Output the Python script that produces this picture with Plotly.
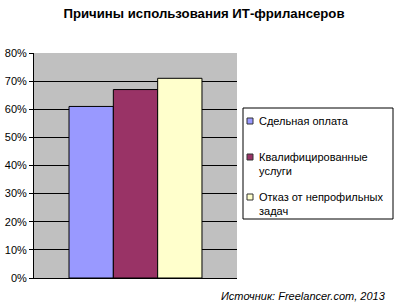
import plotly.graph_objects as go

title = "Причины использования ИТ-фрилансеров"
source = "Источник: Freelancer.com, 2013"
series_names = ["Сдельная оплата", "Квалифицированные<br>услуги", "Отказ от непрофильных<br>задач"]
series_values = [61, 67, 71]
series_colors = ["#9999FF", "#993366", "#FFFFCC"]
tick_vals = [0, 10, 20, 30, 40, 50, 60, 70, 80]
tick_text = [f"{v}%" for v in tick_vals]
category = [""]

# plot-area geometry (pixels)
L, R, T, B = 34, 237, 53, 278
W, H = R - L, B - T


def px(xp):
    return (xp - L) / W


def py(yp):
    return (B - yp) / H


fig = go.Figure()
for i, (name, val, col) in enumerate(zip(series_names, series_values, series_colors)):
    fig.add_trace(go.Bar(
        x=category, y=[val], name=name.replace("<br>", " "),
        marker=dict(color=col, line=dict(color="black", width=1)),
        showlegend=False,
    ))

shapes = [dict(type="rect", xref="paper", yref="paper", x0=px(243), x1=px(393),
               y0=py(108), y1=py(219), line=dict(color="black", width=1),
               fillcolor="white", layer="above")]
annotations = []
legend_rows = [121, 157, 197]
for name, col, ry in zip(series_names, series_colors, legend_rows):
    shapes.append(dict(type="rect", xref="paper", yref="paper", x0=px(247), x1=px(253),
                       y0=py(ry - 3), y1=py(ry + 3), line=dict(color="#333333", width=1),
                       fillcolor=col, layer="above"))
    annotations.append(dict(text=name, x=px(257), y=py(ry - 8), xref="paper", yref="paper",
                            xanchor="left", yanchor="top", align="left", showarrow=False,
                            font=dict(size=11)))
annotations.append(dict(text=f"<i>{source}</i>", x=px(388), y=py(296), xref="paper", yref="paper",
                        xanchor="right", yanchor="middle", showarrow=False, font=dict(size=11)))

fig.update_layout(
    width=400, height=306,
    margin=dict(l=L, r=400 - R, t=T, b=306 - B, autoexpand=False),
    paper_bgcolor="white", plot_bgcolor="#C0C0C0",
    font=dict(family="Arial, Liberation Sans", size=11, color="black"),
    barmode="group", bargap=0.345, bargroupgap=0,
    title=dict(text=f"<b>{title}</b>", x=0.51, xanchor="center", y=0.957, yanchor="middle",
               font=dict(size=13.2, family="Arial, Liberation Sans", color="black")),
    showlegend=False,
    xaxis=dict(showticklabels=False, showline=True, linecolor="black", linewidth=1,
               showgrid=False, ticks="", mirror=False),
    yaxis=dict(range=[0, 80], tickvals=tick_vals, ticktext=tick_text, showgrid=True,
               gridcolor="black", gridwidth=1, showline=True, linecolor="black", linewidth=1,
               ticks="outside", ticklen=4, tickcolor="black", zeroline=False),
    shapes=shapes,
    annotations=annotations,
)

fig.write_html("out.html")
